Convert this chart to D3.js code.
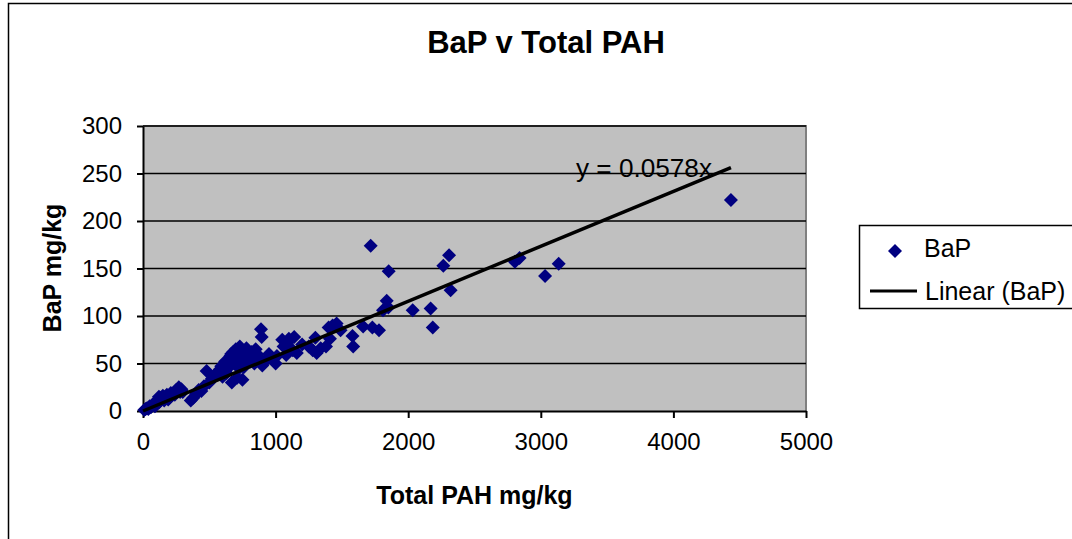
<!DOCTYPE html>
<html>
<head>
<meta charset="utf-8">
<script src="https://cdn.jsdelivr.net/npm/d3@7"></script>
<style>
  html, body { margin: 0; padding: 0; background: #fff; }
  svg { display: block; font-family: "Liberation Sans", Arial, sans-serif; }
</style>
</head>
<body>
<svg id="chart" width="1072" height="539"></svg>
<script>
// ---- data ----
const totalPAH = [
  10, 20, 30, 40, 50, 60, 70, 80, 90, 100, 110, 120, 120, 130, 140, 150, 160, 170, 180, 190, 200, 210, 230, 240, 250,
  270, 280, 290, 300,
  360, 380, 400, 420, 440, 460, 480, 500, 520, 540, 560, 580, 590, 600, 610, 620, 630, 640, 650, 660, 665, 670, 680,
  690, 700, 700, 710, 720, 725, 730, 740, 750, 760, 770, 780, 800, 810, 820, 840, 850, 860, 870, 890, 895, 900, 920,
  950, 980, 1000, 1010,
  1050, 1060, 1080, 1090, 1100, 1130, 1140, 1160, 1200, 1250, 1280, 1300, 1310, 1340, 1380, 1400, 1410, 1430, 1460,
  1490, 1580, 1585, 1660, 1717, 1730, 1780, 1810, 1838, 1850, 1853, 2034, 2169, 2185, 2265, 2308, 2320, 2805, 2840,
  3032, 3135, 4434
];
const bap = [
  1, 2, 3, 2, 5, 4, 6, 8, 5, 7, 10, 9, 15, 14, 12, 16, 11, 15, 17, 12, 14, 19, 18, 17, 22,
  25, 20, 23, 20,
  11, 14, 18, 22, 21, 26, 42, 30, 34, 38, 40, 44, 47, 36, 48, 52, 40, 45, 55, 58, 60, 30, 62,
  50, 65, 55, 35, 60, 45, 68, 55, 33, 46, 62, 66, 58, 52, 62, 50, 65, 60, 57, 86, 78, 48, 52,
  60, 55, 50, 58,
  75, 68, 59, 72, 76, 64, 78, 61, 70, 68, 64, 77, 61, 66, 68, 88, 76, 90, 92,
  85, 79, 68, 89, 174, 88, 85, 106, 116, 109, 147, 106, 108, 88, 153, 164, 127, 157, 161,
  142, 155, 222
];
const xTicks = [0, 1000, 2000, 3000, 4000, 5000];
const yTicks = [0, 50, 100, 150, 200, 250, 300];
const trendSlope = 0.0578;
const chartTitle = "BaP v Total PAH";
const xTitle = "Total PAH mg/kg";
const yTitle = "BaP mg/kg";
const seriesName = "BaP";
const trendName = "Linear (BaP)";
const equationText = "y = 0.0578x";

// ---- layout ----
const svg = d3.select("#chart");
const plot = { left: 143, right: 806, top: 126, bottom: 411 };
const x = d3.scaleLinear().domain([0, 5000]).range([plot.left, plot.right]);
const y = d3.scaleLinear().domain([0, 300]).range([plot.bottom, plot.top]);

// chart outer border
svg.append("rect").attr("x", 8.5).attr("y", 3.5).attr("width", 1100).attr("height", 600)
  .attr("fill", "#fff").attr("stroke", "#000").attr("stroke-width", 1.5);

// plot area
svg.append("rect").attr("x", plot.left).attr("y", plot.top)
  .attr("width", plot.right - plot.left).attr("height", plot.bottom - plot.top)
  .attr("fill", "#c0c0c0");
svg.append("path")
  .attr("d", `M${plot.left},${plot.top}H${plot.right}V${plot.bottom}`)
  .attr("fill", "none").attr("stroke", "#808080").attr("stroke-width", 2);

// gridlines
svg.append("g").selectAll("line").data(yTicks.filter(d => d > 0)).join("line")
  .attr("x1", plot.left).attr("x2", plot.right)
  .attr("y1", d => y(d)).attr("y2", d => y(d))
  .attr("stroke", "#000").attr("stroke-width", 1.5);

// axes
const yAxis = svg.append("g").attr("transform", `translate(${plot.left},0)`)
  .call(d3.axisLeft(y).tickValues(yTicks).tickFormat(d3.format("d")).tickSize(6).tickPadding(15).tickSizeOuter(0));
const xAxis = svg.append("g").attr("transform", `translate(0,${plot.bottom})`)
  .call(d3.axisBottom(x).tickValues(xTicks).tickFormat(d3.format("d")).tickSize(7).tickPadding(14).tickSizeOuter(0));
[xAxis, yAxis].forEach(g => {
  g.selectAll(".domain").attr("stroke", "#000").attr("stroke-width", 2);
  g.selectAll(".tick line").attr("stroke", "#000").attr("stroke-width", 2);
  g.selectAll(".tick text").attr("fill", "#000").attr("font-size", 24)
    .attr("font-family", '"Liberation Sans", Arial, sans-serif');
});
xAxis.selectAll(".tick text").attr("dy", "0.75em");

// points
const diamond = r => `M0,${-r}L${r},0L0,${r}L${-r},0Z`;
svg.append("g").selectAll("path").data(totalPAH.map((v, i) => [v, bap[i]])).join("path")
  .attr("d", diamond(7))
  .attr("transform", d => `translate(${x(d[0])},${y(d[1])})`)
  .attr("fill", "#000080");

// trendline
const xMax = d3.max(totalPAH);
svg.append("line")
  .attr("x1", x(0)).attr("y1", y(0))
  .attr("x2", x(xMax)).attr("y2", y(trendSlope * xMax))
  .attr("stroke", "#000").attr("stroke-width", 3.5);

// equation
svg.append("text").attr("x", 576).attr("y", 177).attr("font-size", 25).attr("fill", "#000")
  .attr("textLength", 136).attr("lengthAdjust", "spacingAndGlyphs")
  .text(equationText);

// titles
svg.append("text").attr("x", 546).attr("y", 53).attr("text-anchor", "middle")
  .attr("font-size", 31).attr("font-weight", "bold").text(chartTitle);
svg.append("text").attr("x", (plot.left + plot.right) / 2).attr("y", 504).attr("text-anchor", "middle")
  .attr("font-size", 25).attr("font-weight", "bold").text(xTitle);
svg.append("text").attr("transform", `translate(61,268) rotate(-90)`).attr("text-anchor", "middle")
  .attr("font-size", 25).attr("font-weight", "bold").text(yTitle);

// legend
const lg = svg.append("g");
lg.append("rect").attr("x", 859.5).attr("y", 225.5).attr("width", 300).attr("height", 83)
  .attr("fill", "#fff").attr("stroke", "#000").attr("stroke-width", 1.5);
lg.append("path").attr("d", diamond(7)).attr("transform", "translate(895,251)").attr("fill", "#000080");
lg.append("text").attr("x", 924).attr("y", 257).attr("font-size", 25).text(seriesName);
lg.append("line").attr("x1", 870).attr("x2", 917).attr("y1", 291).attr("y2", 291)
  .attr("stroke", "#000").attr("stroke-width", 3);
lg.append("text").attr("x", 925).attr("y", 300).attr("font-size", 25).text(trendName);
</script>
</body>
</html>
